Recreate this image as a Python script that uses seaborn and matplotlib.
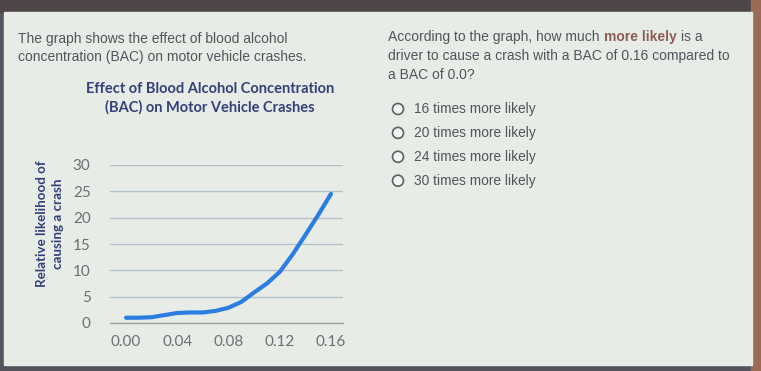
import matplotlib.pyplot as plt
from matplotlib.patches import Rectangle, Circle
import seaborn as sns

# values (BAC vs relative likelihood)
bac = [0.00, 0.01, 0.02, 0.03, 0.04, 0.05, 0.06, 0.07, 0.08,
       0.09, 0.10, 0.11, 0.12, 0.13, 0.14, 0.15, 0.16]
likelihood = [1.0, 1.0, 1.1, 1.5, 1.9, 2.0, 2.0, 2.3, 2.9,
              4.0, 5.8, 7.5, 9.7, 13.0, 16.7, 20.5, 24.5]
x_ticks = [0.00, 0.04, 0.08, 0.12, 0.16]
y_ticks = [0, 5, 10, 15, 20, 25, 30]

intro = "The graph shows the effect of blood alcohol\nconcentration (BAC) on motor vehicle crashes."
chart_title = "Effect of Blood Alcohol Concentration\n(BAC) on Motor Vehicle Crashes"
y_label = "Relative likelihood of\ncausing a crash"
question = ["According to the graph, how much ", "more likely", " is a"]
question_rest = ["driver to cause a crash with a BAC of 0.16 compared to", "a BAC of 0.0?"]
options = ["16 times more likely", "20 times more likely",
           "24 times more likely", "30 times more likely"]

sns.set_theme(style="whitegrid")
plt.rcParams['font.family'] = ['Liberation Sans', 'DejaVu Sans']

text_col = '#50565c'
navy = '#33407a'
panel = '#e7ece6'

fig = plt.figure(figsize=(7.61, 3.71), dpi=100, facecolor='#55545e')
renderer = fig.canvas.get_renderer()

# background layer in pixel units
bg = fig.add_axes([0, 0, 1, 1])
bg.set_xlim(0, 761)
bg.set_ylim(371, 0)
bg.axis('off')
bg.add_patch(Rectangle((0, 0), 761, 12, color='#4e4648'))
bg.add_patch(Rectangle((751, 0), 10, 371, color='#9a6b55'))
bg.add_patch(Rectangle((4, 12), 748, 353, color=panel))

bg.text(18, 48, intro, fontsize=10, color=text_col, va='center', linespacing=1.45)

# question on the right, the bold part placed after the measured width
x = 388
for part in question:
    bold = part == "more likely"
    t = bg.text(x, 37, part.strip(), fontsize=10, va='center',
                color='#8b5e55' if bold else text_col,
                fontweight='bold' if bold else 'normal')
    x += t.get_window_extent(renderer).width + 4.5
for i, line in enumerate(question_rest):
    bg.text(388, 56 + i * 19, line, fontsize=10, color=text_col, va='center')

for i, opt in enumerate(options):
    y = 109 + i * 23.9
    bg.add_patch(Circle((398, y), 5.5, facecolor='#f4f6f3', edgecolor='#5a5f64', lw=1.2))
    bg.text(414, y, opt, fontsize=9.9, color=text_col, va='center')

bg.text(210, 98, chart_title, fontsize=10.5, color=navy, fontweight='bold', family='Lato',
        ha='center', va='center', linespacing=1.35)
bg.text(50, 224, y_label, fontsize=9.6, color=navy, fontweight='bold', family='Lato',
        ha='center', va='center', rotation=90, linespacing=1.45)

# the chart itself
ax = fig.add_axes([110 / 761, 48 / 371, 233 / 761, 158 / 371])
ax.set_facecolor('none')
sns.lineplot(x=bac, y=likelihood, ax=ax, color='#2b7de0', linewidth=3)
ax.set_xlim(-0.0125, 0.1694)
ax.set_ylim(0, 30)
ax.set_xticks(x_ticks)
ax.set_xticklabels([f'{v:.2f}' for v in x_ticks])
ax.set_yticks(y_ticks)
ax.grid(axis='y', color='#b3c2c8', linewidth=1)
ax.grid(axis='x', visible=False)
for side in ['left', 'right', 'top']:
    ax.spines[side].set_visible(False)
ax.spines['bottom'].set_color('#9ea4a4')
ax.spines['bottom'].set_linewidth(1)
ax.tick_params(axis='both', length=0, labelsize=11, labelcolor='#6a7075')
ax.tick_params(axis='y', pad=14)
ax.tick_params(axis='x', pad=9)
for lab in ax.get_xticklabels() + ax.get_yticklabels():
    lab.set_family('Lato')

plt.savefig('out.png', dpi=100, facecolor=fig.get_facecolor())
plt.close()
